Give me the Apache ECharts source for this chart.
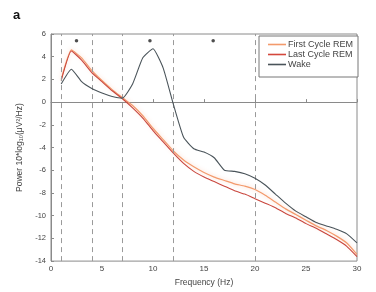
<!DOCTYPE html>
<html>
<head>
<meta charset="utf-8">
<script src="https://cdn.jsdelivr.net/npm/echarts@6/dist/echarts.min.js"></script>
<style>
  html, body { margin: 0; padding: 0; background: #fff; }
  #chart { width: 376px; height: 292px; }
</style>
</head>
<body>
<div id="chart"></div>
<script>
// frequency bins (Hz)
const freqs = [1, 2, 3, 4, 5, 6, 7, 8, 9, 10, 11, 12, 13, 14, 15, 16, 17, 18, 19, 20, 21, 22, 23, 24, 25, 26, 27, 28, 29, 30];

const firstCycleREM = [2.0, 4.6, 3.9, 2.8, 1.9, 1.1, 0.4, -0.3, -1.2, -2.3, -3.3, -4.3, -5.1, -5.7, -6.2, -6.6, -6.9, -7.2, -7.4, -7.7, -8.2, -8.8, -9.4, -9.9, -10.4, -10.9, -11.3, -11.8, -12.4, -13.4];
const lastCycleREM = [1.9, 4.5, 3.7, 2.6, 1.8, 1.0, 0.3, -0.5, -1.4, -2.5, -3.5, -4.5, -5.4, -6.1, -6.6, -7.0, -7.4, -7.8, -8.1, -8.5, -8.9, -9.3, -9.8, -10.2, -10.7, -11.1, -11.6, -12.1, -12.7, -13.6];
const wake = [1.6, 2.9, 1.8, 1.2, 0.8, 0.5, 0.35, 1.6, 3.9, 4.7, 3.0, -0.2, -3.1, -4.1, -4.4, -4.9, -6.0, -6.1, -6.3, -6.7, -7.3, -8.1, -8.9, -9.6, -10.1, -10.6, -10.9, -11.2, -11.6, -12.4];

// band borders and significance markers
const bandEdges = [1, 4, 7, 12, 20];
const starFreqs = [2.5, 9.7, 15.9];
const starLevel = 5.4;

const font = 'Liberation Sans, Arial, sans-serif';
const axisGray = '#8a8a8a';
const textGray = '#444';

const chart = echarts.init(document.getElementById('chart'));

const toPairs = (vals) => freqs.map((f, i) => [f, vals[i]]);

chart.setOption({
  animation: false,
  title: {
    text: 'a',
    left: 8,
    top: 4,
    textStyle: { fontFamily: font, fontSize: 13, fontWeight: 'bold', color: '#111' }
  },
  grid: { left: 51, right: 19, top: 34, bottom: 27, show: true, borderColor: axisGray, borderWidth: 1 },
  legend: {
    orient: 'vertical',
    right: 18,
    top: 36,
    padding: [4, 5, 8, 9],
    itemGap: 1,
    itemWidth: 18,
    itemHeight: 9,
    borderColor: '#777',
    borderWidth: 1,
    borderRadius: 0,
    backgroundColor: '#fff',
    icon: 'path://M0,4 L18,4 L18,5.6 L0,5.6 Z',
    data: ['First Cycle REM', 'Last Cycle REM', 'Wake'],
    textStyle: { fontFamily: font, fontSize: 9, color: textGray, padding: [0, 0, 0, -3] }
  },
  xAxis: {
    type: 'value',
    min: 0,
    max: 30,
    interval: 5,
    name: 'Frequency (Hz)',
    nameLocation: 'middle',
    nameGap: 16,
    nameTextStyle: { fontFamily: font, fontSize: 8.5, color: textGray },
    axisLine: { show: true, lineStyle: { color: axisGray } },
    axisTick: { show: true, inside: true, length: 3, lineStyle: { color: axisGray } },
    axisLabel: { fontFamily: font, fontSize: 8, color: textGray, margin: 4 },
    splitLine: { show: false }
  },
  yAxis: {
    type: 'value',
    min: -14,
    max: 6,
    interval: 2,
    name: 'Power 10*log₁₀(μV²/Hz)',
    nameLocation: 'middle',
    nameGap: 27,
    nameTextStyle: { fontFamily: font, fontSize: 8.5, color: textGray },
    axisLine: { show: true, lineStyle: { color: axisGray } },
    axisTick: { show: true, inside: true, length: 3, lineStyle: { color: axisGray } },
    axisLabel: { fontFamily: font, fontSize: 7.5, color: textGray, margin: 5 },
    splitLine: { show: false }
  },
  series: [
    {
      name: 'First Cycle REM',
      type: 'line',
      data: toPairs(firstCycleREM),
      symbol: 'none',
      smooth: 0.15,
      color: '#f39a6c',
      lineStyle: { width: 1.2, color: '#f39a6c', shadowColor: 'rgba(245,150,110,0.45)', shadowBlur: 4 },
      markLine: {
        silent: true,
        symbol: 'none',
        label: { show: false },
        lineStyle: { color: '#9a9a9a', type: [5, 4], width: 1 },
        data: bandEdges.map((f) => ({ xAxis: f }))
      },
      z: 3
    },
    {
      name: 'Last Cycle REM',
      type: 'line',
      data: toPairs(lastCycleREM),
      symbol: 'none',
      smooth: 0.15,
      color: '#d4473c',
      lineStyle: { width: 1.1, color: '#c9473e' },
      z: 4
    },
    {
      name: 'Wake',
      type: 'line',
      data: toPairs(wake),
      symbol: 'none',
      smooth: 0.15,
      color: '#4a545a',
      lineStyle: { width: 1.1, color: '#4a545a' },
      z: 5
    },
    {
      name: 'sig',
      type: 'scatter',
      data: starFreqs.map((f) => [f, starLevel]),
      symbol: 'circle',
      symbolSize: 3.5,
      itemStyle: { color: '#222' },
      silent: true
    }
  ]
});
</script>
</body>
</html>
